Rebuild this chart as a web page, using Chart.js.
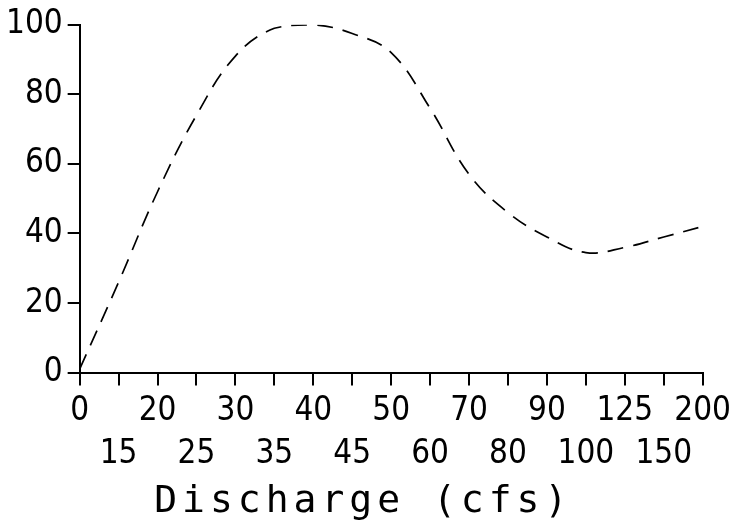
<!DOCTYPE html>
<html>
<head>
<meta charset="utf-8">
<title>Discharge chart</title>
<script src="https://cdn.jsdelivr.net/npm/chart.js@4"></script>
<style>
  html, body { margin: 0; padding: 0; background: #fff; }
</style>
</head>
<body>
<canvas id="discharge_chart" width="735" height="526"></canvas>
<script>
'use strict';

// discharge categories (cfs) and the habitat curve
var discharge = ['0', '15', '20', '25', '30', '35', '40', '45', '50', '60', '70', '80', '90', '100', '125', '150', '200'];
var habitat = [1, 26, 52, 74, 91, 99, 100, 97.5, 92, 76, 57, 46, 39, 34.5, 36, 39, 42];
var yTicks = [0, 20, 40, 60, 80, 100];

var tickFont = "'DejaVu Sans Condensed', 'DejaVu Sans', sans-serif";

// title gets wide letter spacing, tick labels (drawn after datasets, z:1) get none
var spacingPlugin = {
    id: 'spacing',
    beforeDraw: function (chart) { chart.ctx.letterSpacing = '5px'; },
    afterDatasetsDraw: function (chart) { chart.ctx.letterSpacing = '0px'; }
};

var ctx = document.getElementById('discharge_chart').getContext('2d');
var myChart = new Chart(ctx, {
    type: 'line',
    data: {
        labels: discharge,
        datasets: [{
            data: habitat,
            borderColor: '#000',
            borderWidth: 1.7,
            borderDash: [16, 10],
            pointRadius: 0,
            tension: 0.4,
            fill: false
        }]
    },
    options: {
        responsive: false,
        animation: false,
        layout: { padding: { left: 1, top: 6, right: -4, bottom: 0 } },
        plugins: {
            legend: { display: false },
            tooltip: { enabled: false }
        },
        scales: {
            x: {
                type: 'category',
                offset: false,
                border: { color: '#000', width: 2 },
                grid: { drawOnChartArea: false, drawTicks: true, tickLength: 13, color: '#000', lineWidth: 2 },
                ticks: {
                    z: 1,
                    autoSkip: false,
                    maxRotation: 0,
                    padding: 4,
                    color: '#000',
                    font: { family: tickFont, size: 33, lineHeight: 1.3 },
                    callback: function (value, index) {
                        var lab = discharge[index];
                        return index % 2 === 0 ? [lab, ''] : ['', lab];
                    }
                },
                title: {
                    display: true,
                    // trailing spaces shift the centred title left, as in the original
                    text: 'Discharge (cfs)  ',
                    color: '#000',
                    font: { family: "'DejaVu Sans Mono', monospace", size: 38 },
                    padding: { top: 0, bottom: 1 }
                }
            },
            y: {
                min: 0,
                max: 100,
                afterBuildTicks: function (axis) {
                    axis.ticks = yTicks.map(function (v) { return { value: v }; });
                },
                border: { color: '#000', width: 2 },
                grid: { drawOnChartArea: false, drawTicks: true, tickLength: 12, color: '#000', lineWidth: 2 },
                ticks: {
                    z: 1,
                    padding: 5,
                    color: '#000',
                    font: { family: tickFont, size: 33 }
                }
            }
        }
    },
    plugins: [spacingPlugin]
});
</script>
</body>
</html>
